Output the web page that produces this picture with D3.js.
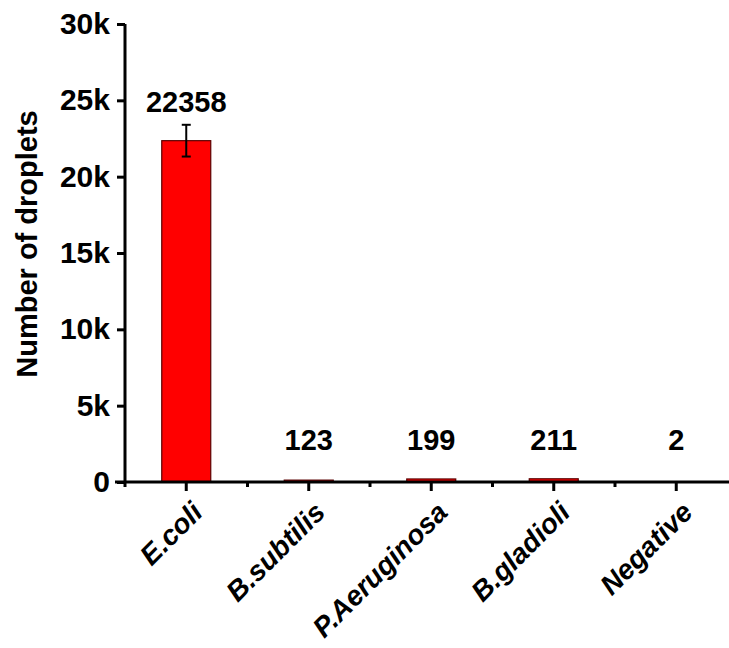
<!DOCTYPE html>
<html>
<head>
<meta charset="utf-8">
<script src="https://cdn.jsdelivr.net/npm/d3@7"></script>
<style>
  html, body { margin: 0; padding: 0; background: #fff; }
  svg { display: block; font-family: Arial, "Liberation Sans", sans-serif; }
</style>
</head>
<body>
<svg id="chart" width="729" height="648"></svg>
<script>
// Droplet counts per sample
const categories = ["E.coli", "B.subtilis", "P.Aeruginosa", "B.gladioli", "Negative"];
const counts = [22358, 123, 199, 211, 2];
const errors = [1040, 0, 0, 0, 0];
const yTicks = [0, 5000, 10000, 15000, 20000, 25000, 30000];
const yTickLabels = ["0", "5k", "10k", "15k", "20k", "25k", "30k"];

const svg = d3.select("#chart");
const plotLeft = 125, plotRight = 737.5, plotTop = 24, plotBottom = 482;
const ink = "#000";

const x = d3.scaleBand().domain(categories).range([plotLeft, plotRight]).paddingInner(0).paddingOuter(0);
const y = d3.scaleLinear().domain([0, 30000]).range([plotBottom, plotTop]);
const barW = x.bandwidth() * 0.4;

const data = categories.map((c, i) => ({ c, v: counts[i], e: errors[i] }));

// Bars
svg.append("g").selectAll("rect").data(data).join("rect")
  .attr("x", d => x(d.c) + (x.bandwidth() - barW) / 2)
  .attr("y", d => y(d.v))
  .attr("width", barW)
  .attr("height", d => Math.max(plotBottom - y(d.v), 0))
  .attr("fill", "#ff0000")
  .attr("stroke", "#5a0000")
  .attr("stroke-width", 1.2);

// Error bars
const eb = svg.append("g").attr("stroke", ink).attr("stroke-width", 2);
data.filter(d => d.e > 0).forEach(d => {
  const cx = x(d.c) + x.bandwidth() / 2;
  eb.append("line").attr("x1", cx).attr("x2", cx).attr("y1", y(d.v + d.e)).attr("y2", y(d.v - d.e));
  eb.append("line").attr("x1", cx - 4.5).attr("x2", cx + 4.5).attr("y1", y(d.v + d.e)).attr("y2", y(d.v + d.e));
  eb.append("line").attr("x1", cx - 4.5).attr("x2", cx + 4.5).attr("y1", y(d.v - d.e)).attr("y2", y(d.v - d.e));
});

// Value labels
svg.append("g").selectAll("text").data(data).join("text")
  .attr("x", d => x(d.c) + x.bandwidth() / 2)
  .attr("y", d => Math.min(y(d.v + d.e) - 13, plotBottom - 32))
  .attr("text-anchor", "middle")
  .attr("font-size", 29)
  .attr("font-weight", "bold")
  .attr("fill", ink)
  .text(d => d.v);

// Y axis
const yAxis = d3.axisLeft(y).tickValues(yTicks).tickFormat((d, i) => yTickLabels[i])
  .tickSize(8).tickPadding(7);
const gy = svg.append("g").attr("transform", `translate(${plotLeft},0)`).call(yAxis);
gy.select(".domain").attr("stroke-width", 3).attr("d", `M0,${plotTop}V${plotBottom}`);
gy.selectAll(".tick line").attr("stroke-width", 3);
gy.selectAll(".tick text").attr("font-size", 30).attr("font-weight", "bold")
  .attr("font-family", "Arial, 'Liberation Sans', sans-serif").attr("fill", ink);

// X axis: major ticks at category centres, minor ticks at band edges
const gx = svg.append("g").attr("transform", `translate(0,${plotBottom})`);
gx.append("line").attr("x1", 115).attr("x2", 729).attr("y1", 0).attr("y2", 0)
  .attr("stroke", ink).attr("stroke-width", 3);
const xAxis = d3.axisBottom(x).tickSize(9).tickFormat("");
const gxa = gx.append("g").call(xAxis);
gxa.select(".domain").remove();
gxa.selectAll(".tick line").attr("stroke-width", 3);
gx.selectAll("line.minor").data(categories).join("line").attr("class", "minor")
  .attr("x1", d => x(d)).attr("x2", d => x(d)).attr("y1", 0).attr("y2", 5)
  .attr("stroke", ink).attr("stroke-width", 3);

// Rotated category labels
gx.selectAll("text.cat").data(categories).join("text").attr("class", "cat")
  .attr("transform", d => `translate(${x(d) + x.bandwidth() / 2 + 18},${32}) rotate(-45)`)
  .attr("text-anchor", "end")
  .attr("font-size", 28)
  .attr("font-weight", "bold")
  .attr("font-style", "italic")
  .attr("fill", ink)
  .text(d => d);

// Y axis title
svg.append("text")
  .attr("transform", `translate(37,244) rotate(-90)`)
  .attr("text-anchor", "middle")
  .attr("font-size", 29)
  .attr("font-weight", "bold")
  .attr("fill", ink)
  .text("Number of droplets");
</script>
</body>
</html>
